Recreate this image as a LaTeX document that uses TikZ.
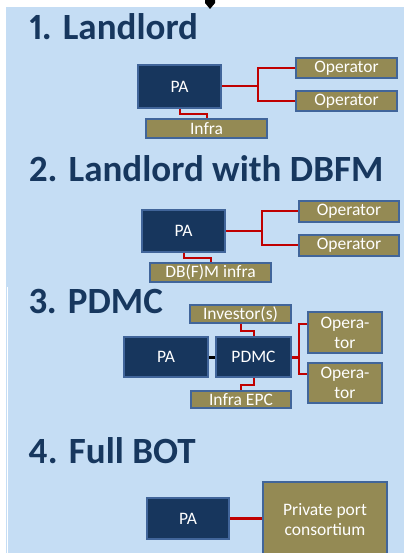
\documentclass[tikz,border=0pt]{standalone}
\usepackage{fontspec}
\setmainfont{Carlito}[Numbers=Proportional]
\usetikzlibrary{calc}
\definecolor{bgblue}{HTML}{C5DDF4}
\definecolor{titleblue}{HTML}{17375E}
\definecolor{pafill}{HTML}{17365D}
\definecolor{boxedge}{HTML}{41659A}
\definecolor{olive}{HTML}{948A54}
\definecolor{linkred}{HTML}{C00000}
\tikzset{
  title/.style={anchor=base west, inner sep=0pt, text=titleblue,
    font=\fontsize{37}{40}\selectfont\bfseries},
  pabox/.style={draw=boxedge, line width=2pt, fill=pafill, text=white,
    inner sep=0pt, align=center, font=\fontsize{17.5}{20}\selectfont},
  olivebox/.style={draw=boxedge, line width=2pt, fill=olive, text=white,
    inner sep=0pt, align=center, font=\fontsize{17.5}{20}\selectfont},
  link/.style={draw=linkred, line width=2pt},
  boldlink/.style={draw=linkred, line width=3.5pt},
}
\begin{document}
\begin{tikzpicture}[x=1pt, y=-1pt]
\useasboundingbox (0,0) rectangle (404,553);
\clip (0,0) rectangle (404,553);
% page background
\fill[bgblue] (6,7) rectangle (404,553);
\fill[white] (6,287) rectangle (8,553);
\fill[bgblue] (6.4,287) rectangle (7,553);
% pin marker at the top edge
\fill[black] (205,0) -- (215,0) -- (215,3) -- (210,9) -- (205,3) -- cycle;

% ---- 1. Landlord ----
\node[title] (t1) at (29,40) {1. Landlord};
\node[pabox, minimum width=83pt, minimum height=43pt] (pa1) at (179.5,86.5) {PA};
\node[olivebox, minimum width=101pt, minimum height=20pt] (op1a) at (346.5,68) {Operator};
\node[olivebox, minimum width=101pt, minimum height=20pt] (op1b) at (346.5,101) {Operator};
\node[olivebox, minimum width=121pt, minimum height=19pt] (infra1) at (206.5,128.5) {Infra};
\coordinate (br1) at (258,86.5);
\draw[link] (pa1.east) -- (br1) |- (op1a.west);
\draw[link] (br1) |- (op1b.west);
\draw[link] (pa1.south) -- ++(0,5.5) -| (infra1.north);

% ---- 2. Landlord with DBFM ----
\node[title] (t2) at (29,182) {2. Landlord with DBFM};
\node[pabox, minimum width=83pt, minimum height=42pt] (pa2) at (183.5,230.5) {PA};
\node[olivebox, minimum width=100pt, minimum height=21pt] (op2a) at (349,211) {Operator};
\node[olivebox, minimum width=100pt, minimum height=21pt] (op2b) at (349,245) {Operator};
\node[olivebox, minimum width=121pt, minimum height=19pt] (infra2) at (210.5,272.5) {DB(F)M infra};
\coordinate (br2) at (262,230.5);
\draw[link] (pa2.east) -- (br2) |- (op2a.west);
\draw[link] (br2) |- (op2b.west);
\draw[link] (pa2.south) -- ++(0,5.5) -| (infra2.north);

% ---- 3. PDMC ----
\node[title] (t3) at (29,313) {3. PDMC};
\node[olivebox, minimum width=101pt, minimum height=18pt] (inv) at (240.5,314) {Investor(s)};
\node[pabox, minimum width=84pt, minimum height=40pt] (pa3) at (166,357) {PA};
\node[pabox, minimum width=75pt, minimum height=40pt] (pdmc) at (253.5,357) {PDMC};
\node[olivebox, minimum width=100pt, minimum height=17pt] (epc) at (241,399.5) {Infra EPC};
\node[olivebox, minimum width=74pt, minimum height=41pt] (op3a) at (345,332.5) {Opera-\\tor};
\node[olivebox, minimum width=74pt, minimum height=40pt] (op3b) at (345,383) {Opera-\\tor};
\draw[black, line width=3pt] (pa3.east) -- (pdmc.west);
\coordinate (br3) at (299,357);
\draw[boldlink, line width=3pt] (pdmc.east) -- (br3);
\draw[link] ([yshift=8.5pt]op3a.west) -| (br3) |- ([yshift=9pt]op3b.west);
\draw[link] (inv.south) -- ++(0,7) -| (pdmc.north);
\draw[link] (pdmc.south) -- ++(0,7) -| (epc.north);

% ---- 4. Full BOT ----
\node[title] (t4) at (28,463) {4. Full BOT};
\node[pabox, minimum width=82pt, minimum height=41pt] (pa4) at (188,518.5) {PA};
\node[olivebox, minimum width=124pt, minimum height=76pt] (ppc) at (325,519.5) {Private port\\consortium};
\draw[boldlink] (pa4.east) -- (ppc.west |- pa4.east);
\end{tikzpicture}
\end{document}
